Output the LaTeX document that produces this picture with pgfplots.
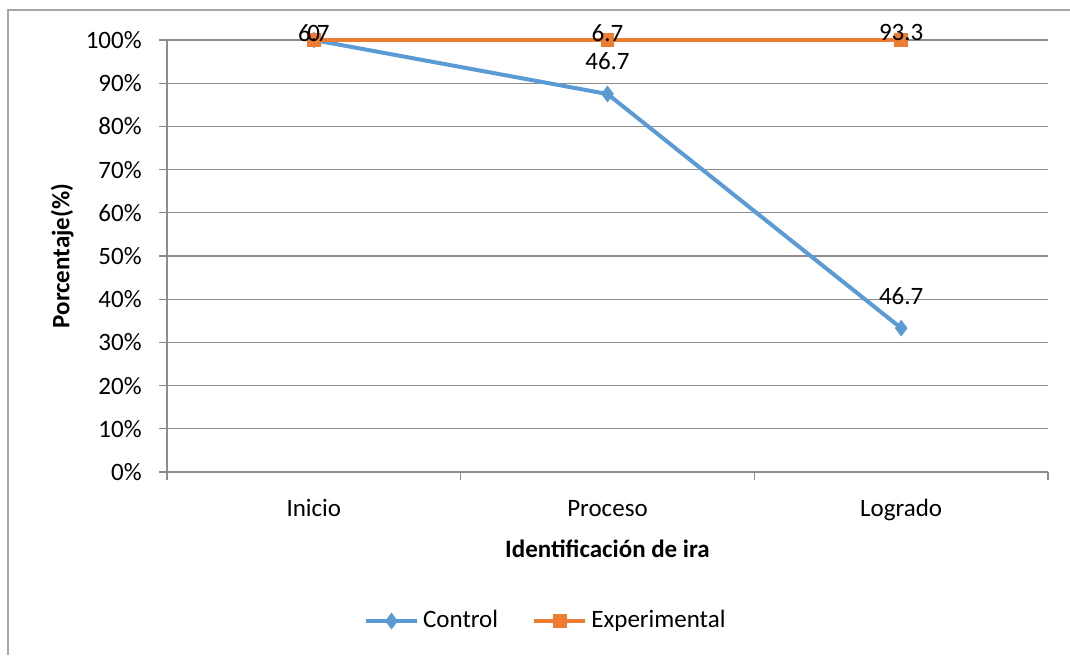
\documentclass[border=0pt]{standalone}
\usepackage{pgfplots}
\pgfplotsset{compat=1.18}
\usepackage{fontspec}
\setmainfont{Carlito}

\definecolor{ctrlblue}{HTML}{5B9BD5}
\definecolor{exporange}{HTML}{ED7D31}
\definecolor{gridgray}{HTML}{8C8C8C}
\definecolor{framegray}{HTML}{A6A6A6}

% values as plotted (percent of total)
\pgfplotstableread{
x y
0 100
1 87.5
2 33.3
}\controldata
\pgfplotstableread{
x y
0 100
1 100
2 100
}\expdata
% data labels, placed where they sit in the chart
\pgfplotstableread{
x y lab
0 101.6 6.7
1 95.1 46.7
2 40.7 46.7
}\controllabels
\pgfplotstableread{
x y lab
0 101.6 0
1 101.6 6.7
2 101.8 93.3
}\explabels

\begin{document}
\fontsize{12.5}{15}\selectfont
\begin{tikzpicture}
\begin{axis}[
    name=ax,
    scale only axis,
    width=440.5pt, height=216pt,
    xmin=-0.5, xmax=2.5,
    ymin=0, ymax=100,
    clip=false,
    axis x line*=bottom,
    axis y line*=left,
    axis line style={gridgray, line width=0.6pt, -},
    tick align=outside,
    major tick length=4pt,
    tick style={gridgray, line width=0.6pt},
    xtick={-0.5,0.5,1.5,2.5},
    xticklabels={},
    extra x ticks={0,1,2},
    extra x tick labels={Inicio,Proceso,Logrado},
    extra x tick style={major tick length=0pt,
        xticklabel style={anchor=north, text height=9pt, text depth=2.5pt, yshift=-9pt}},
    ytick={0,10,...,100},
    yticklabels={0\%,10\%,20\%,30\%,40\%,50\%,60\%,70\%,80\%,90\%,100\%},
    yticklabel style={xshift=-4.3pt},
    ymajorgrids=true,
    grid style={gridgray, line width=0.6pt},
    xlabel={\bfseries Identificación de ira},
    xlabel style={at={(axis description cs:0.5,-0.178)}, anchor=center},
    ylabel={\bfseries Porcentaje(\%)},
    ylabel style={at={(axis description cs:-0.119,0.5)}, anchor=center, rotate=0},
    legend style={at={(axis description cs:0.431,-0.345)}, anchor=center,
        draw=none, legend columns=2,
        /tikz/every even column/.append style={column sep=15pt}},
    legend image code/.code={
        \draw[mark repeat=2, mark phase=2]
        plot coordinates {(0cm,0cm) (0.45cm,0cm) (0.9cm,0cm)};},
]
\addplot[color=ctrlblue, line width=2pt, mark=diamond*,
    mark size=3.8pt, mark options={solid, line width=0.5pt}]
    table[x=x, y=y] {\controldata};
\addlegendentry{Control}
\addplot[color=exporange, line width=2pt, mark=square*,
    mark size=3.2pt, mark options={solid, line width=0.5pt}]
    table[x=x, y=y] {\expdata};
\addlegendentry{Experimental}

\addplot[forget plot, draw=none, mark=none, nodes near coords,
    point meta=explicit symbolic,
    every node near coord/.append style={anchor=center, text=black, inner sep=0pt}]
    table[x=x, y=y, meta=lab] {\controllabels};
\addplot[forget plot, draw=none, mark=none, nodes near coords,
    point meta=explicit symbolic,
    every node near coord/.append style={anchor=center, text=black, inner sep=0pt}]
    table[x=x, y=y, meta=lab] {\explabels};
\end{axis}
% chart area frame (only its left and top edges are inside the picture)
\draw[framegray, line width=0.7pt]
    ([xshift=-79.5pt, yshift=-91.5pt]ax.south west)
    -- ([xshift=-79.5pt, yshift=231pt]ax.south west)
    -- ([xshift=451.5pt, yshift=231pt]ax.south west);
\pgfresetboundingbox
\path ([xshift=-83.5pt, yshift=-91.5pt]ax.south west)
    rectangle ([xshift=451.5pt, yshift=236pt]ax.south west);
\end{tikzpicture}
\end{document}
